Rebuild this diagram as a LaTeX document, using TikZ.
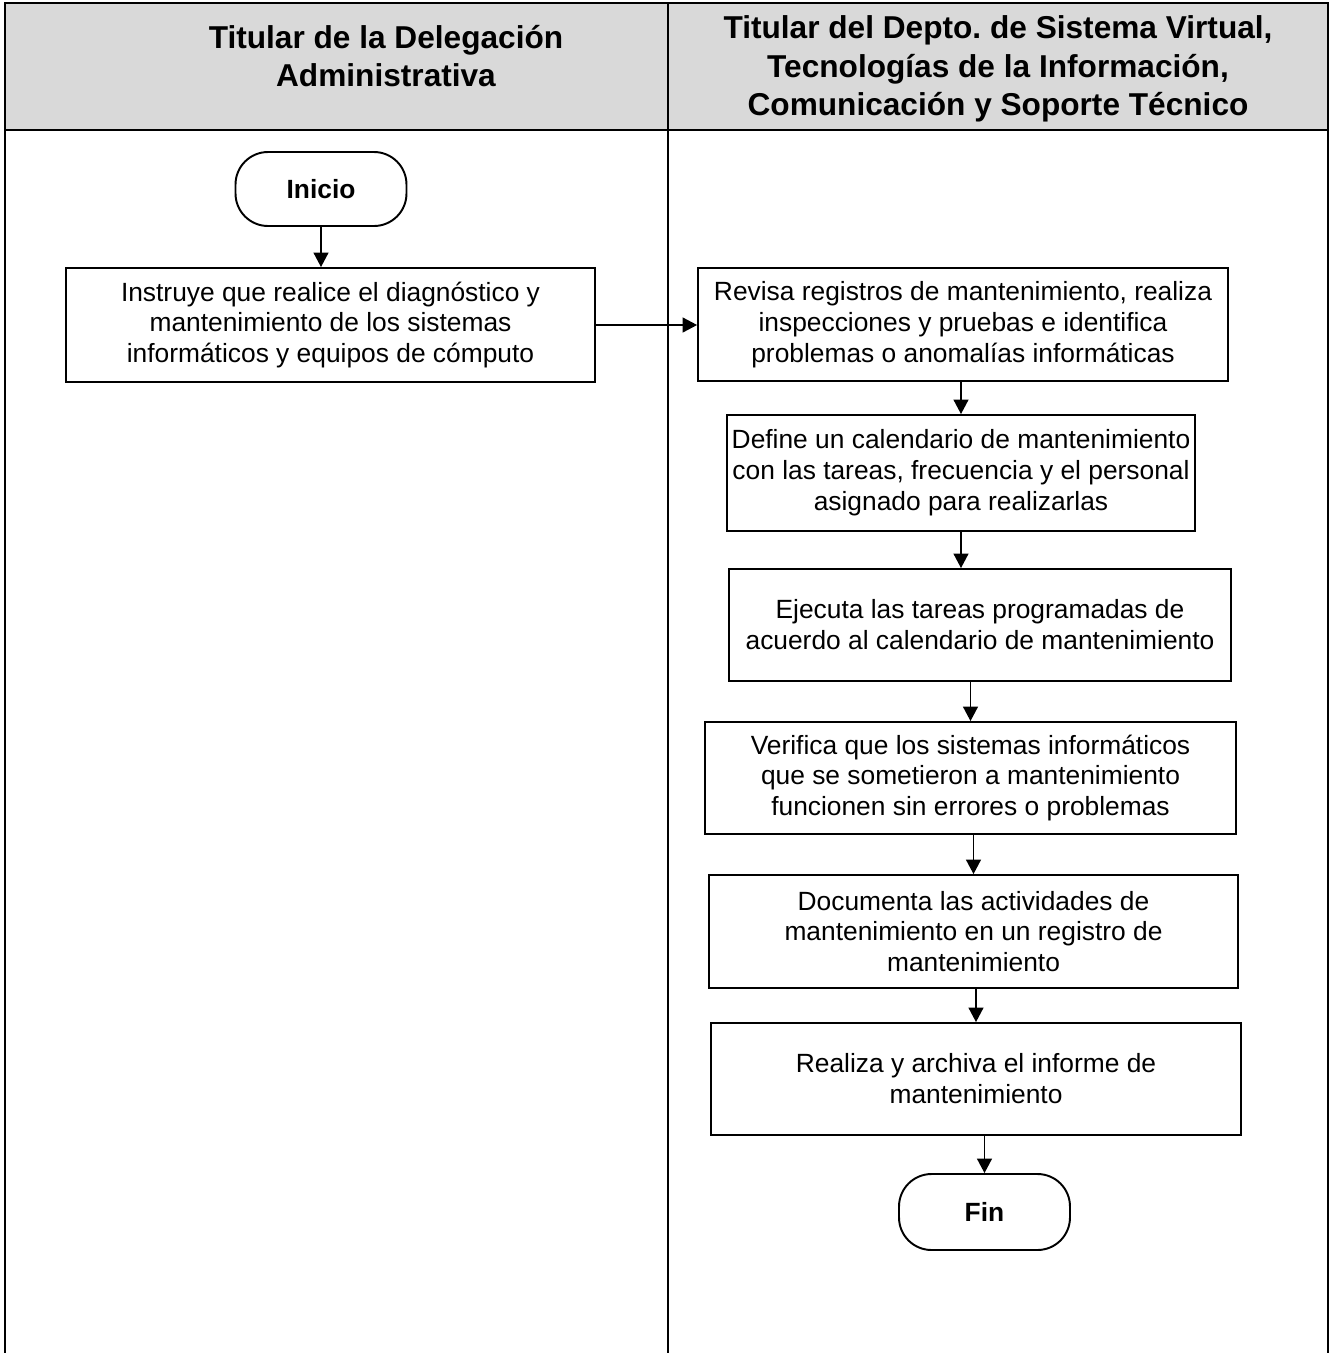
\documentclass[tikz,border=0pt]{standalone}
\usepackage{fontspec}
\setmainfont{Liberation Sans}
\usetikzlibrary{arrows.meta}
\definecolor{cabecera}{RGB}{217,217,217}
\frenchspacing
\begin{document}
\begin{tikzpicture}[x=0.02cm,y=-0.02cm,font=\fontsize{15}{17.6}\selectfont,
	carril/.style={line width=1.5pt},
	titulo/.style={align=center,font=\fontsize{18}{21.8}\selectfont\bfseries},
	paso/.style={draw,line width=1.1pt,align=center,inner sep=2pt},
	terminal/.style={draw,line width=1.1pt,rounded corners=0.65cm,minimum width=3.42cm,minimum height=1.48cm,font=\fontsize{15}{17.6}\selectfont\bfseries},
	flecha/.style={line width=0.8pt,-{Triangle[length=0.29cm,width=0.3cm]}}]
	\useasboundingbox (0,0) rectangle (1331,1353);
	\fill[cabecera] (5,3) rectangle (1328,130);
	\draw[carril] (5,1353) -- (5,3) -- (1328,3) -- (1328,1353);
	\draw[carril] (5,130) -- (1328,130);
	\draw[carril] (668,3) -- (668,1353);
	\node[titulo] (carrilA) at (386,56) {Titular de la Delegación\\Administrativa};
	\node[titulo] (carrilB) at (998,69) {Titular del Depto. de Sistema Virtual,\\Tecnologías de la Información,\\Comunicación y Soporte Técnico};
	\node[terminal] (inicio) at (321,189) {Inicio};
	\node[paso,minimum width=10.58cm,minimum height=2.28cm] (instruye) at (330.5,325) {Instruye que realice el diagnóstico y\\mantenimiento de los sistemas\\informáticos y equipos de cómputo};
	\node[paso,minimum width=10.6cm,minimum height=2.26cm] (revisa) at (963,324.5) {Revisa registros de mantenimiento, realiza\\inspecciones y pruebas e identifica\\problemas o anomalías informáticas};
	\node[paso,minimum width=9.36cm,minimum height=2.32cm] (define) at (961,473) {Define un calendario de mantenimiento\\con las tareas, frecuencia y el personal\\asignado para realizarlas};
	\node[paso,minimum width=10.04cm,minimum height=2.24cm] (ejecuta) at (980,625) {Ejecuta las tareas programadas de\\acuerdo al calendario de mantenimiento};
	\node[paso,minimum width=10.62cm,minimum height=2.24cm] (verifica) at (970.5,778) {Verifica que los sistemas informáticos\\que se sometieron a mantenimiento\\funcionen sin errores o problemas};
	\node[paso,minimum width=10.58cm,minimum height=2.26cm] (documenta) at (973.5,931.5) {Documenta las actividades de\\mantenimiento en un registro de\\mantenimiento};
	\node[paso,minimum width=10.6cm,minimum height=2.24cm] (archiva) at (976,1079) {Realiza y archiva el informe de\\mantenimiento};
	\node[terminal,minimum height=1.52cm] (fin) at (984.5,1212) {Fin};
	\draw[flecha] (inicio.south) -- (inicio.south |- instruye.north);
	\draw[flecha] (instruye.east) -- (instruye.east -| revisa.west);
	\draw[flecha] (revisa.south -| define.north) -- (define.north);
	\draw[flecha] (define.south) -- (define.south |- ejecuta.north);
	\draw[flecha] (verifica.north |- ejecuta.south) -- (verifica.north);
	\draw[flecha] (documenta.north |- verifica.south) -- (documenta.north);
	\draw[flecha] (archiva.north |- documenta.south) -- (archiva.north);
	\draw[flecha] (fin.north |- archiva.south) -- (fin.north);
\end{tikzpicture}
\end{document}
